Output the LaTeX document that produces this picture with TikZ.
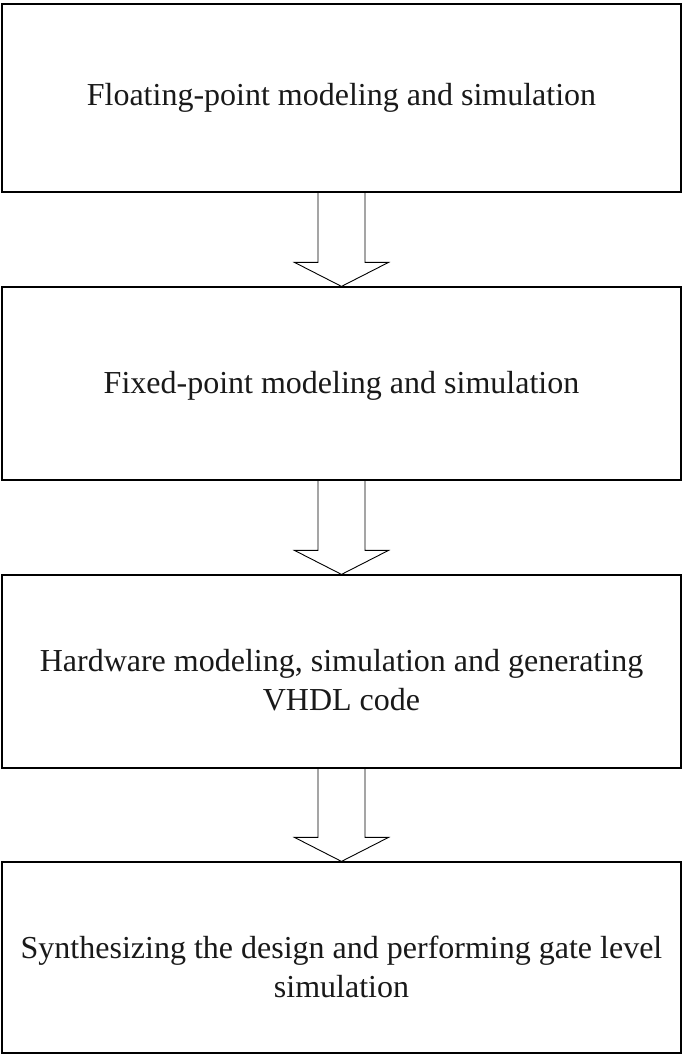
\documentclass[tikz,border=0pt]{standalone}
\usepackage{fontspec}
\setmainfont{Liberation Serif}
\usetikzlibrary{calc}
\tikzset{
  stagebox/.style={draw=black, line width=1.2pt, rectangle, minimum width=679pt, inner sep=0pt},
  stagetext/.style={align=center, inner sep=0pt, font=\fontsize{32}{39}\selectfont, text=black!90},
  flowarrow/.style={draw=black, line width=0.9pt, line join=miter},
}
\begin{document}
\begin{tikzpicture}[x=1pt, y=-1pt]
  \useasboundingbox (0,0) rectangle (683,1056);
  \fill[white] (0,0) rectangle (683,1056);
  % the four stages of the design flow
  \node[stagebox, minimum height=188pt] (b1) at (341.5,98) {};
  \node[stagebox, minimum height=193pt] (b2) at (341.5,383.5) {};
  \node[stagebox, minimum height=193pt] (b3) at (341.5,671.5) {};
  \node[stagebox, minimum height=191pt] (b4) at (341.5,957.5) {};
  \node[stagetext] (t1) at ($(b1.center)+(0,0)$) {Floating-point modeling and simulation};
  \node[stagetext] (t2) at ($(b2.center)+(0,2)$) {Fixed-point modeling and simulation};
  \node[stagetext] (t3) at ($(b3.center)+(0,9)$) {Hardware modeling, simulation and generating\\VHDL code};
  \node[stagetext] (t4) at ($(b4.center)+(0,9)$) {Synthesizing the design and performing gate level\\simulation};
  % hollow block arrows between consecutive stages
  \foreach \a/\b in {b1/b2, b2/b3, b3/b4}{
    \draw[flowarrow]
      ($(\a.south)+(-23.5,0)$) -- ($(\b.north)+(-23.5,-24)$) -- ($(\b.north)+(-47,-24)$)
      -- (\b.north) -- ($(\b.north)+(47,-24)$) -- ($(\b.north)+(23.5,-24)$)
      -- ($(\a.south)+(23.5,0)$);
  }
\end{tikzpicture}
\end{document}
